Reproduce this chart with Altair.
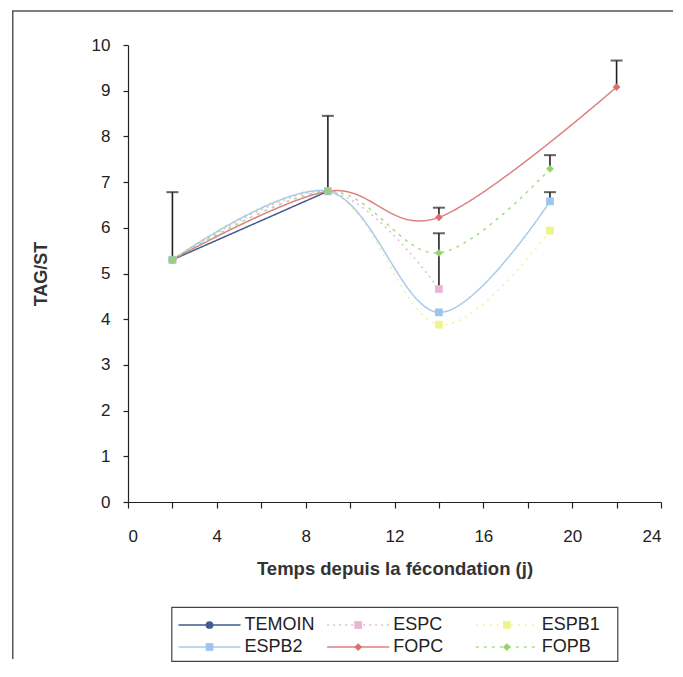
import altair as alt
import pandas as pd

# ---------------- data ----------------
series_names = ["TEMOIN", "ESPC", "ESPB1", "ESPB2", "FOPC", "FOPB"]
series_colors = ["#3f5d8e", "#e8b6d4", "#eef38c", "#9fc6ea", "#d8706d", "#97d56c"]
series_dash = [[1, 0], [2, 4], [2, 5], [1, 0], [1, 0], [3, 5]]
series_width = [1.5, 1.5, 1.2, 1.6, 2.0, 2.4]
series_line_opacity = [1, 0.85, 0.35, 1, 1, 1]
series_shapes = ["circle", "square", "square", "square", "diamond", "diamond"]
series_sizes = [60, 60, 60, 60, 85, 45]

temoin_days = [2, 9]
temoin_vals = [5.3, 6.8]
espc_days = [2, 9, 14]
espc_vals = [5.3, 6.8, 4.66]
espb1_days = [2, 9, 14, 19]
espb1_vals = [5.3, 6.8, 3.88, 5.94]
espb2_days = [2, 9, 14, 19]
espb2_vals = [5.3, 6.8, 4.15, 6.58]
fopc_days = [2, 9, 14, 22]
fopc_vals = [5.3, 6.8, 6.23, 9.08]
fopb_days = [2, 9, 14, 19]
fopb_vals = [5.3, 6.8, 5.45, 7.29]

err_series = ["TEMOIN", "TEMOIN", "ESPC", "FOPC", "FOPB", "ESPB2", "FOPC"]
err_days = [2, 9, 14, 14, 19, 19, 22]
err_base = [5.3, 6.8, 4.66, 6.23, 7.29, 6.58, 9.08]
err_top = [6.78, 8.45, 5.88, 6.44, 7.59, 6.78, 9.66]

x_ticks = list(range(0, 25, 2))
y_ticks = list(range(0, 11))

legend_col = [0, 1, 2, 0, 1, 2]
legend_row = [0, 0, 0, 1, 1, 1]

# ---------------- tables ----------------
rows = []
for name, days, vals in [
    ("TEMOIN", temoin_days, temoin_vals),
    ("ESPC", espc_days, espc_vals),
    ("ESPB1", espb1_days, espb1_vals),
    ("ESPB2", espb2_days, espb2_vals),
    ("FOPC", fopc_days, fopc_vals),
    ("FOPB", fopb_days, fopb_vals),
]:
    for d, v in zip(days, vals):
        rows.append({"series": name, "day": d, "value": v})
df = pd.DataFrame(rows)

err_df = pd.DataFrame({"series": err_series, "day": err_days,
                       "base": err_base, "top": err_top})

leg_df = pd.DataFrame({"series": series_names, "col": legend_col, "row": legend_row})

FONT = "Liberation Sans"

color_scale = alt.Scale(domain=series_names, range=series_colors)
dash_scale = alt.Scale(domain=series_names, range=series_dash)
width_scale = alt.Scale(domain=series_names, range=series_width)
sop_scale = alt.Scale(domain=series_names, range=series_line_opacity)
shape_scale = alt.Scale(domain=series_names, range=series_shapes)
size_scale = alt.Scale(domain=series_names, range=series_sizes)

x_enc = alt.X("day:Q", scale=alt.Scale(domain=[0, 24], nice=False),
              axis=alt.Axis(values=x_ticks, title="Temps depuis la fécondation (j)",
                            labelExpr="datum.value % 4 == 0 ? datum.label : ''",
                            grid=False, tickSize=6, labelPadding=20, titlePadding=15,
                            domainColor="#222", tickColor="#222", labelColor="#222",
                            titleColor="#333", labelFont=FONT, titleFont=FONT,
                            labelFontSize=17, titleFontSize=18.5, titleFontWeight="bold",
                            domainWidth=1.2, tickWidth=1.2))
y_enc = alt.Y("value:Q", scale=alt.Scale(domain=[0, 10], nice=False),
              axis=alt.Axis(values=y_ticks, title="TAG/ST", grid=False, tickSize=5,
                            labelPadding=13, titlePadding=41,
                            domainColor="#222", tickColor="#222", labelColor="#222",
                            titleColor="#333", labelFont=FONT, titleFont=FONT,
                            labelFontSize=17, titleFontSize=18, titleFontWeight="bold",
                            domainWidth=1.2, tickWidth=1.2))

base = alt.Chart(df)

# decorative outer frame (left and top edges only, as in the scan)
one = pd.DataFrame({"a": [0]})
frame_left = alt.Chart(one).mark_rect(fill="#555", strokeWidth=0).encode(
    x=alt.value(-116), x2=alt.value(-114.5), y=alt.value(-34), y2=alt.value(614))
frame_top = alt.Chart(one).mark_rect(fill="#555", strokeWidth=0).encode(
    x=alt.value(-116), x2=alt.value(545), y=alt.value(-34.75), y2=alt.value(-33.25))

lines = base.mark_line(interpolate="cardinal").encode(
    x=x_enc, y=y_enc,
    color=alt.Color("series:N", scale=color_scale, legend=None),
    strokeDash=alt.StrokeDash("series:N", scale=dash_scale, legend=None),
    strokeWidth=alt.StrokeWidth("series:N", scale=width_scale, legend=None),
    strokeOpacity=alt.StrokeOpacity("series:N", scale=sop_scale, legend=None),
    detail="series:N",
)

err_rule = alt.Chart(err_df).mark_rule(color="#222", strokeWidth=1.6).encode(
    x="day:Q", y="base:Q", y2="top:Q")
err_cap = alt.Chart(err_df).mark_tick(color="#222", orient="horizontal",
                                      size=12, thickness=2).encode(
    x="day:Q", y="top:Q")

points = base.mark_point(filled=True, opacity=1).encode(
    x="day:Q", y="value:Q",
    color=alt.Color("series:N", scale=color_scale, legend=None),
    shape=alt.Shape("series:N", scale=shape_scale, legend=None),
    size=alt.Size("series:N", scale=size_scale, legend=None),
)

main = alt.layer(lines, err_rule, points, err_cap, frame_left, frame_top).properties(
    width=533, height=457, view=alt.ViewBackground(stroke=None))

# ---------------- legend panel ----------------
lx = alt.X("col:Q", scale=alt.Scale(domain=[0, 3], nice=False), axis=None)
ly = alt.Y("row:Q", scale=alt.Scale(domain=[-0.818, 1.636], nice=False, reverse=True),
           axis=None)
leg_base = alt.Chart(leg_df)
leg_lines = leg_base.mark_rule(xOffset=7, x2Offset=69).encode(
    x=lx, x2="col:Q", y=ly,
    color=alt.Color("series:N", scale=color_scale, legend=None),
    strokeDash=alt.StrokeDash("series:N", scale=dash_scale, legend=None),
    strokeWidth=alt.StrokeWidth("series:N", scale=width_scale, legend=None),
    strokeOpacity=alt.StrokeOpacity("series:N", scale=sop_scale, legend=None),
)
leg_points = leg_base.mark_point(filled=True, opacity=1, xOffset=38).encode(
    x=lx, y=ly,
    color=alt.Color("series:N", scale=color_scale, legend=None),
    shape=alt.Shape("series:N", scale=shape_scale, legend=None),
    size=alt.Size("series:N", scale=size_scale, legend=None),
)
leg_text = leg_base.mark_text(align="left", baseline="middle", dx=73,
                              font=FONT, fontSize=18, color="#222").encode(
    x=lx, y=ly, text="series:N")
legend = alt.layer(leg_lines, leg_points, leg_text).properties(
    width=446, height=54, view=alt.ViewBackground(stroke="#444", strokeWidth=1.2))

chart = alt.vconcat(main, legend, spacing=105, bounds="flush", center=True).resolve_scale(
    x="independent", y="independent").properties(
    padding={"left": 4, "top": 2, "right": 0, "bottom": 0}
).configure(background="white")

chart.save("out.html", embed_options={"renderer": "svg", "actions": False})
